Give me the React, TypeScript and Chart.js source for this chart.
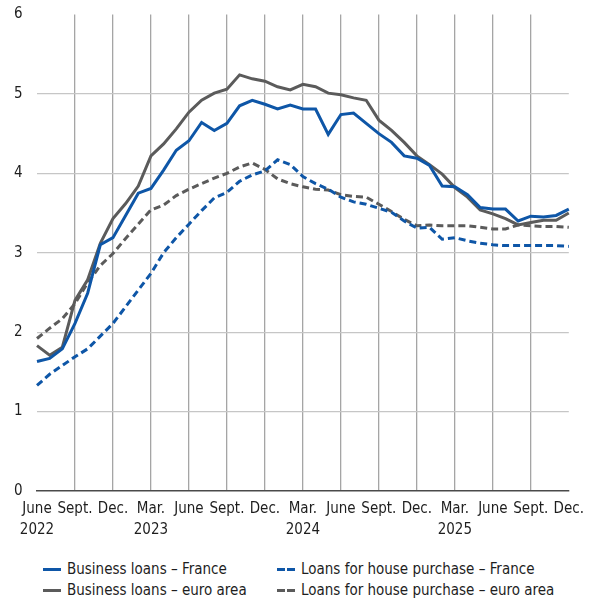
import React, { useEffect, useRef } from "react";
import { Chart, registerables } from "chart.js";

Chart.register(...registerables);

const FONT = "'Liberation Sans Narrow', 'DejaVu Sans Condensed', 'Liberation Sans', sans-serif";

const months = [
  "2022-06", "2022-07", "2022-08", "2022-09", "2022-10", "2022-11", "2022-12",
  "2023-01", "2023-02", "2023-03", "2023-04", "2023-05", "2023-06", "2023-07",
  "2023-08", "2023-09", "2023-10", "2023-11", "2023-12", "2024-01", "2024-02",
  "2024-03", "2024-04", "2024-05", "2024-06", "2024-07", "2024-08", "2024-09",
  "2024-10", "2024-11", "2024-12", "2025-01", "2025-02", "2025-03", "2025-04",
  "2025-05", "2025-06", "2025-07", "2025-08", "2025-09", "2025-10", "2025-11",
  "2025-12",
];

const quarterLabels: (string | string[])[] = [
  ["June", "2022"], "Sept.", "Dec.",
  ["Mar.", "2023"], "June", "Sept.", "Dec.",
  ["Mar.", "2024"], "June", "Sept.", "Dec.",
  ["Mar.", "2025"], "June", "Sept.", "Dec.",
];

const businessFrance = [
  1.63, 1.67, 1.79, 2.11, 2.49, 3.10, 3.19, 3.47, 3.75, 3.81,
  4.04, 4.29, 4.41, 4.64, 4.54, 4.63, 4.85, 4.92, 4.87, 4.81,
  4.86, 4.81, 4.81, 4.49, 4.74, 4.76, 4.63, 4.50, 4.39, 4.22,
  4.19, 4.10, 3.84, 3.83, 3.73, 3.57, 3.55, 3.55, 3.40, 3.46,
  3.45, 3.47, 3.55,
];

const businessEuro = [
  1.83, 1.71, 1.81, 2.40, 2.66, 3.12, 3.43, 3.62, 3.84, 4.22,
  4.37, 4.56, 4.77, 4.92, 5.01, 5.06, 5.24, 5.19, 5.16, 5.09,
  5.05, 5.12, 5.09, 5.01, 4.99, 4.95, 4.92, 4.67, 4.54, 4.39,
  4.22, 4.11, 3.99, 3.82, 3.70, 3.54, 3.49, 3.43, 3.35, 3.38,
  3.41, 3.41, 3.50,
];

const houseFrance = [
  1.33, 1.47, 1.58, 1.69, 1.79, 1.95, 2.11, 2.32, 2.53, 2.74,
  3.00, 3.19, 3.36, 3.53, 3.69, 3.76, 3.90, 3.98, 4.03, 4.17,
  4.11, 3.96, 3.87, 3.80, 3.70, 3.64, 3.61, 3.56, 3.51, 3.40,
  3.31, 3.32, 3.17, 3.19, 3.15, 3.12, 3.10, 3.09, 3.09, 3.09,
  3.09, 3.09, 3.08,
];

const houseEuro = [
  1.92, 2.05, 2.17, 2.36, 2.62, 2.84, 2.99, 3.18, 3.36, 3.54,
  3.60, 3.72, 3.80, 3.87, 3.94, 4.00, 4.08, 4.13, 4.05, 3.93,
  3.87, 3.83, 3.80, 3.79, 3.73, 3.71, 3.70, 3.61, 3.52, 3.42,
  3.34, 3.35, 3.34, 3.34, 3.34, 3.32, 3.30, 3.30, 3.35, 3.34,
  3.33, 3.33, 3.32,
];

const seriesNames = [
  "Business loans – France",
  "Loans for house purchase – France",
  "Business loans – euro area",
  "Loans for house purchase – euro area",
];

const BLUE = "#0e56a7";
const GRAY = "#5b5b5b";

export default function App() {
  const ref = useRef<HTMLCanvasElement>(null);

  useEffect(() => {
    if (!ref.current) return;
    const lastIdx = months.length - 1;
    const chart = new Chart(ref.current, {
      type: "line",
      data: {
        labels: months,
        datasets: [
          { label: seriesNames[0], data: businessFrance, borderColor: BLUE, borderWidth: 3, pointRadius: 0, tension: 0, fill: false },
          { label: seriesNames[1], data: houseFrance, borderColor: BLUE, borderWidth: 3, borderDash: [7, 4], pointRadius: 0, tension: 0, fill: false },
          { label: seriesNames[2], data: businessEuro, borderColor: GRAY, borderWidth: 3, pointRadius: 0, tension: 0, fill: false },
          { label: seriesNames[3], data: houseEuro, borderColor: GRAY, borderWidth: 3, borderDash: [7, 4], pointRadius: 0, tension: 0, fill: false },
        ],
      },
      options: {
        responsive: false,
        animation: false,
        layout: { padding: { left: 14, right: 23, top: 14.5, bottom: 0 } },
        plugins: { legend: { display: false }, tooltip: { enabled: false } },
        scales: {
          x: {
            type: "category",
            offset: false,
            afterFit: (s: any) => { s.height = 57; },
            border: { display: true, color: "#4a4a4a", width: 1.5 },
            grid: {
              drawTicks: false,
              lineWidth: 1.3,
              color: (ctx: any) => {
                const v = ctx.tick ? ctx.tick.value : ctx.index;
                if (v % 3 !== 0 || v === 0 || v === lastIdx) return "rgba(0,0,0,0)";
                return "#a5a5a5";
              },
            },
            ticks: {
              autoSkip: false,
              maxRotation: 0,
              minRotation: 0,
              padding: 8,
              color: "#1e1e1e",
              font: { family: FONT, size: 15, lineHeight: 1.4 },
              callback: (value: any, index: number) => (index % 3 === 0 ? quarterLabels[index / 3] : ""),
            },
          },
          y: {
            min: 0,
            max: 6,
            afterFit: (s: any) => { s.width = 23; },
            border: { display: false },
            grid: {
              drawTicks: false,
              lineWidth: 1.3,
              color: (ctx: any) => {
                const v = ctx.tick ? ctx.tick.value : 0;
                return v === 0 || v === 6 ? "rgba(0,0,0,0)" : "#c6c6c6";
              },
            },
            ticks: {
              stepSize: 1,
              padding: 0,
              crossAlign: "far",
              color: "#1e1e1e",
              font: { family: FONT, size: 15 },
            },
          },
        },
      },
    });
    return () => chart.destroy();
  }, []);

  const textStyle: React.CSSProperties = {
    fontFamily: FONT,
    fontSize: 15,
    color: "#1e1e1e",
    lineHeight: "21px",
    whiteSpace: "nowrap",
  };

  const solid = (color: string) => (
    <div style={{ width: 18, height: 3, background: color }} />
  );
  const dashed = (color: string) => (
    <div style={{ display: "flex", width: 18, height: 3 }}>
      <div style={{ width: 8, height: 3, background: color }} />
      <div style={{ width: 2, height: 3 }} />
      <div style={{ width: 8, height: 3, background: color }} />
    </div>
  );

  const items = [
    { x: 43, y: 559, sw: solid(BLUE), text: seriesNames[0] },
    { x: 277, y: 559, sw: dashed(BLUE), text: seriesNames[1] },
    { x: 43, y: 580, sw: solid(GRAY), text: seriesNames[2] },
    { x: 277, y: 580, sw: dashed(GRAY), text: seriesNames[3] },
  ];

  return (
    <div style={{ position: "absolute", left: 0, top: 0, width: 592, height: 603, background: "#fff", overflow: "hidden" }}>
      <canvas ref={ref} width={592} height={548} style={{ position: "absolute", left: 0, top: 0, width: 592, height: 548 }} />
      {items.map((it, i) => (
        <div key={i} style={{ position: "absolute", left: it.x, top: it.y, height: 21, display: "flex", alignItems: "center" }}>
          {it.sw}
          <span style={{ ...textStyle, marginLeft: 6 }}>{it.text}</span>
        </div>
      ))}
    </div>
  );
}
